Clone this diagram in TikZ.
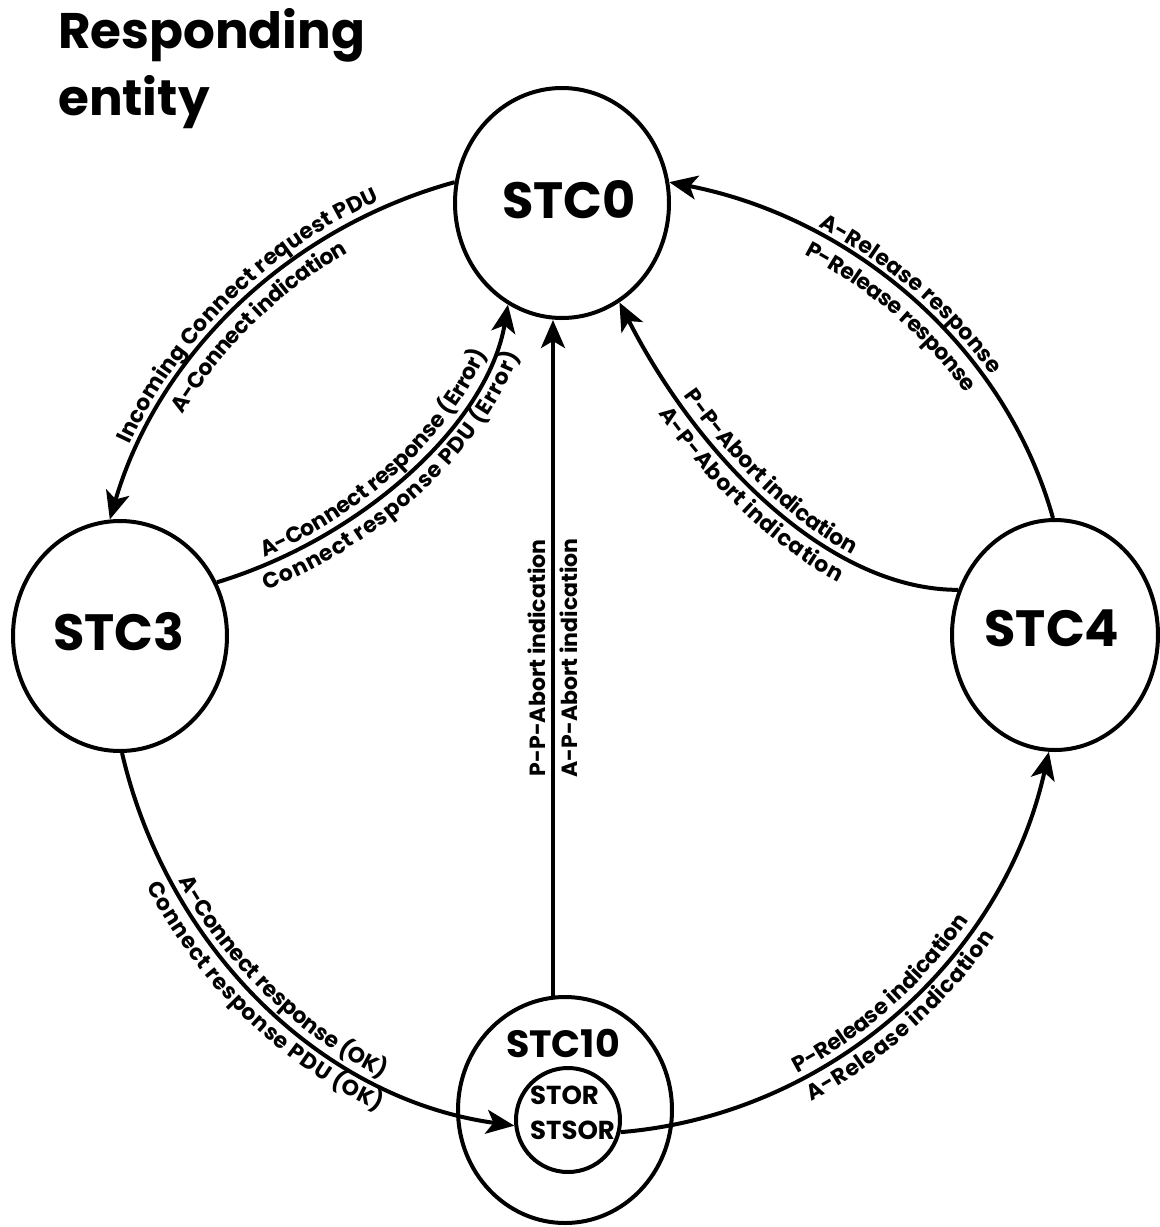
\documentclass[tikz,border=0pt]{standalone}
\usepackage{fontspec}
\setmainfont{Poppins}
\usetikzlibrary{shapes.geometric,arrows.meta,decorations.text,calc}

\newcommand\labfont{\fontsize{22}{22}\selectfont\bfseries}

\begin{document}
\begin{tikzpicture}[x=1pt,y=-1pt,
  state/.style={ellipse, draw, line width=4pt, minimum width=214pt,
    minimum height=230pt, inner sep=0pt},
  substate/.style={circle, draw, line width=4pt, minimum size=104pt, inner sep=0pt},
  bigtext/.style={font=\fontsize{51}{51}\selectfont\bfseries, inner sep=0pt},
  midtext/.style={font=\fontsize{38}{38}\selectfont\bfseries, inner sep=0pt},
  smalltext/.style={font=\fontsize{26}{35}\selectfont\bfseries, inner sep=0pt, align=left},
  conn/.style={line width=4pt, -{Stealth[length=28pt,width=24pt,inset=7pt]}},
  lab/.style 2 args={decorate, decoration={text along path, text align=center,
    raise=#1, text={|\labfont|#2}}},
  vlab/.style={font=\labfont, rotate=90, inner sep=5pt}
]
\useasboundingbox (0,0) rectangle (1160,1227);

% heading
\node[font=\fontsize{50}{67}\selectfont\bfseries, align=left, anchor=north west,
  inner sep=0pt] (title) at (58,8) {Responding\\entity};

% states
\node[state] (s0) at (562,203) {};
\node[state] (s3) at (120,636) {};
\node[state, minimum width=206pt] (s4) at (1055,635) {};
\node[state, minimum height=226pt] (s10) at (565,1110) {};
\node[substate] (in) at (568,1120) {};

\node[bigtext] (t0) at (569,200) {STC0};
\node[bigtext] (t3) at (119,632) {STC3};
\node[bigtext] (t4) at (1052,628) {STC4};
\node[midtext] (t10) at (563,1043) {STC10};
\node[smalltext, anchor=west] (tin) at (530,1113) {STOR\\STSOR};

% STC0 -> STC3
\draw[conn] (s0.169) .. controls (288,228) and (158,355) .. (s3.95);
\path[lab={8pt}{Incoming Connect request PDU}]
  (s3.95) .. controls (158,355) and (288,228) .. (s0.169);
\path[lab={-24pt}{A-Connect indication}]
  (s3.95) .. controls (158,355) and (288,228) .. (s0.169);

% STC3 -> STC0
\draw[conn] (s3.29) .. controls (363,538) and (488,423) .. (s0.242);
\path[lab={7pt}{A-Connect response (Error)}]
  (s3.29) .. controls (363,538) and (488,423) .. (s0.242);
\path[lab={-24pt}{Connect response PDU (Error)}]
  (s3.29) .. controls (363,538) and (488,423) .. (s0.242);

% STC10 -> STC0
\draw[conn] (s10.96) -- (s10.96 |- s0.south)
  node[vlab, pos=0.5, anchor=south] (l3a) {P-P-Abort indication}
  node[vlab, pos=0.5, anchor=north] (l3b) {A-P-Abort indication};

% STC4 -> STC0 (abort)
\draw[conn] (s4.155) .. controls (830,590) and (700,460) .. (s0.300);
\path[lab={7pt}{P-P-Abort indication}]
  (s0.300) .. controls (700,460) and (830,590) .. (s4.155);
\path[lab={-24pt}{A-P-Abort indication}]
  (s0.300) .. controls (700,460) and (830,590) .. (s4.155);

% STC4 -> STC0 (release)
\draw[conn] (s4.91) .. controls (1004,343) and (849,217) .. (s0.11);
\path[lab={7pt}{A-Release response}]
  (s0.11) .. controls (849,217) and (1004,343) .. (s4.91);
\path[lab={-24pt}{P-Release response}]
  (s0.11) .. controls (849,217) and (1004,343) .. (s4.91);

% STC3 -> STC10
\draw[conn] (s3.271) .. controls (167,947) and (321,1099) .. (in.186);
\path[lab={7pt}{A-Connect response (OK)}]
  (s3.271) .. controls (167,947) and (321,1099) .. (in.186);
\path[lab={-24pt}{Connect response PDU (OK)}]
  (s3.271) .. controls (167,947) and (321,1099) .. (in.186);

% STC10 -> STC4
\draw[conn] (in.347) .. controls (829,1115) and (1003,959) .. (s4.267);
\path[lab={7pt}{P-Release indication}]
  (in.347) .. controls (829,1115) and (1003,959) .. (s4.267);
\path[lab={-24pt}{A-Release indication}]
  (in.347) .. controls (829,1115) and (1003,959) .. (s4.267);
\end{tikzpicture}
\end{document}
